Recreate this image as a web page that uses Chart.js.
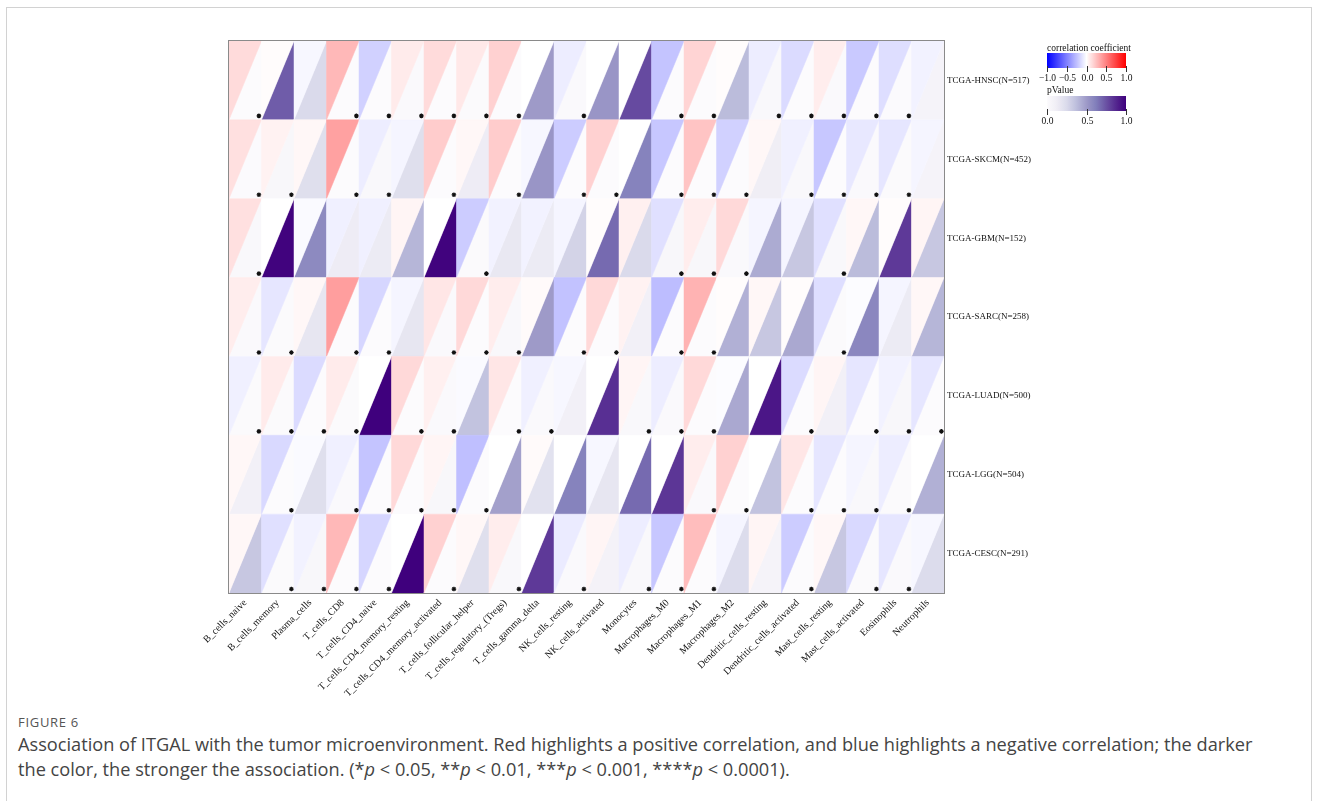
<!DOCTYPE html>
<html>
<head>
<meta charset="utf-8">
<title>ITGAL and immune infiltration</title>
<script src="https://cdn.jsdelivr.net/npm/chart.js@4.4.1/dist/chart.umd.min.js"></script>
<style>
  html, body { margin: 0; padding: 0; background: #fff; }
  body { width: 1319px; height: 801px; position: relative; overflow: hidden; }
  #frame { position: absolute; left: 6px; top: 7px; width: 1306px; height: 830px;
           border: 1px solid #d2d2d2; box-sizing: border-box; }
  #wrap { position: absolute; left: 0; top: 0; width: 1319px; height: 700px; }
  #cap { position: absolute; left: 18px; top: 714px; width: 1290px;
         font-family: "Open Sans", "Noto Sans", sans-serif; color: #444; }
  #cap .fig { font-size: 13px; line-height: 16px; letter-spacing: 0.7px; color: #555; }
  #cap .txt { font-size: 18.2px; line-height: 25px; margin-top: 2px; }
</style>
</head>
<body>
<div id="frame"></div>
<div id="wrap"><canvas id="chart" width="1319" height="700"></canvas></div>
<div id="cap">
  <div class="fig">FIGURE 6</div>
  <div class="txt">Association of ITGAL with the tumor microenvironment. Red highlights a positive correlation, and blue highlights a negative correlation; the darker<br>the color, the stronger the association. (*<i>p</i> &lt; 0.05, **<i>p</i> &lt; 0.01, ***<i>p</i> &lt; 0.001, ****<i>p</i> &lt; 0.0001).</div>
</div>
<script>
// Immune cell types (columns) and cohorts (rows)
const cellTypes = [
  'B_cells_naive', 'B_cells_memory', 'Plasma_cells', 'T_cells_CD8', 'T_cells_CD4_naive',
  'T_cells_CD4_memory_resting', 'T_cells_CD4_memory_activated', 'T_cells_follicular_helper',
  'T_cells_regulatory_(Tregs)', 'T_cells_gamma_delta', 'NK_cells_resting', 'NK_cells_activated',
  'Monocytes', 'Macrophages_M0', 'Macrophages_M1', 'Macrophages_M2', 'Dendritic_cells_resting',
  'Dendritic_cells_activated', 'Mast_cells_resting', 'Mast_cells_activated', 'Eosinophils', 'Neutrophils'
];
const cohorts = [
  'TCGA-HNSC(N=517)', 'TCGA-SKCM(N=452)', 'TCGA-GBM(N=152)', 'TCGA-SARC(N=258)',
  'TCGA-LUAD(N=500)', 'TCGA-LGG(N=504)', 'TCGA-CESC(N=291)'
];

// Correlation coefficients per cohort
const HNSC_r = [0.14, 0.01, -0.03, 0.28, -0.18, 0.08, 0.14, 0.09, 0.18, 0.00, -0.07, 0.00, 0.00, -0.23, 0.17, 0.01, -0.07, -0.14, 0.07, -0.21, -0.13, -0.05];
const SKCM_r = [0.12, 0.05, 0.03, 0.37, -0.07, -0.04, 0.20, 0.03, 0.20, -0.03, -0.20, 0.18, 0.00, -0.22, 0.23, -0.18, 0.03, -0.06, -0.22, -0.09, -0.10, -0.04];
const GBM_r  = [0.12, 0.00, -0.02, -0.06, -0.06, 0.04, 0.00, -0.20, -0.05, -0.05, -0.04, 0.01, 0.06, -0.12, 0.07, 0.15, -0.04, -0.04, -0.12, 0.03, 0.01, 0.04];
const SARC_r = [0.07, -0.10, 0.03, 0.38, -0.16, -0.04, 0.10, 0.15, 0.07, 0.02, -0.24, 0.15, 0.05, -0.26, 0.30, 0.01, 0.03, 0.01, -0.13, -0.01, -0.04, 0.03];
const LUAD_r = [-0.06, 0.08, -0.14, 0.08, 0.00, 0.15, 0.06, -0.02, 0.10, -0.06, -0.03, 0.00, 0.04, -0.07, 0.15, -0.01, 0.00, -0.14, 0.04, -0.10, -0.05, -0.10];
const LGG_r  = [0.03, -0.15, -0.02, -0.06, -0.23, 0.15, 0.04, -0.25, 0.00, 0.02, 0.00, -0.03, 0.00, 0.00, 0.07, 0.18, 0.00, 0.10, -0.10, -0.04, -0.07, 0.00];
const CESC_r = [0.03, -0.12, -0.05, 0.28, -0.16, 0.00, 0.18, 0.03, 0.07, 0.00, -0.08, 0.04, -0.07, -0.22, 0.26, -0.04, 0.04, -0.20, 0.03, -0.15, -0.10, -0.03];

// P values per cohort
const HNSC_p = [0.003, 0.72, 0.25, 0.001, 0.002, 0.02, 0.003, 0.01, 0.001, 0.50, 0.02, 0.52, 0.77, 0.001, 0.002, 0.38, 0.03, 0.004, 0.02, 0.001, 0.006, 0.07];
const SKCM_p = [0.006, 0.04, 0.22, 0.001, 0.03, 0.22, 0.001, 0.13, 0.001, 0.52, 0.001, 0.001, 0.60, 0.001, 0.001, 0.002, 0.12, 0.03, 0.001, 0.02, 0.01, 0.07];
const GBM_p  = [0.03, 0.99, 0.57, 0.13, 0.14, 0.40, 0.99, 0.01, 0.16, 0.14, 0.28, 0.68, 0.25, 0.04, 0.04, 0.02, 0.44, 0.33, 0.03, 0.38, 0.82, 0.33];
const SARC_p = [0.02, 0.01, 0.17, 0.001, 0.002, 0.17, 0.02, 0.003, 0.03, 0.50, 0.001, 0.003, 0.10, 0.001, 0.001, 0.42, 0.33, 0.45, 0.01, 0.58, 0.14, 0.40];
const LUAD_p = [0.01, 0.01, 0.002, 0.01, 1.00, 0.001, 0.02, 0.35, 0.003, 0.02, 0.10, 0.85, 0.03, 0.02, 0.001, 0.45, 0.93, 0.002, 0.10, 0.003, 0.04, 0.003];
const LGG_p  = [0.10, 0.001, 0.22, 0.02, 0.001, 0.001, 0.04, 0.001, 0.48, 0.20, 0.60, 0.17, 0.68, 0.83, 0.02, 0.001, 0.35, 0.003, 0.004, 0.03, 0.01, 0.42];
const CESC_p = [0.33, 0.01, 0.04, 0.001, 0.003, 1.00, 0.002, 0.22, 0.03, 0.82, 0.02, 0.08, 0.03, 0.001, 0.001, 0.24, 0.07, 0.001, 0.33, 0.01, 0.02, 0.24];

// Colour-bar tick values
const corrTicks = [-1, -0.5, 0, 0.5, 1];
const pTicks = [0, 0.5, 1];

const corrRows = [HNSC_r, SKCM_r, GBM_r, SARC_r, LUAD_r, LGG_r, CESC_r];
const pRows = [HNSC_p, SKCM_p, GBM_p, SARC_p, LUAD_p, LGG_p, CESC_p];
const SIG_LEVEL = 0.05;

// ---- colour scales ----
function mix(a, b, t) {
  return [0, 1, 2].map(k => Math.round(a[k] + (b[k] - a[k]) * t));
}
function rgb(c) { return `rgb(${c[0]},${c[1]},${c[2]})`; }
function corrColor(v) {
  const t = Math.min(1, Math.abs(v));
  return rgb(v >= 0 ? mix([255, 255, 255], [255, 0, 0], t) : mix([255, 255, 255], [0, 0, 255], t));
}
const PURPLES = ['#fcfbfd', '#efedf5', '#dadaeb', '#bcbddc', '#9e9ac8', '#807dba', '#6a51a3', '#54278f', '#3f007d']
  .map(h => [parseInt(h.slice(1, 3), 16), parseInt(h.slice(3, 5), 16), parseInt(h.slice(5, 7), 16)]);
function pColor(v) {
  const s = Math.max(0, Math.min(1, v)) * (PURPLES.length - 1);
  const i = Math.min(PURPLES.length - 2, Math.floor(s));
  return rgb(mix(PURPLES[i], PURPLES[i + 1], s - i));
}

// ---- points for each layer ----
const corrPoints = [], pPoints = [], starPoints = [];
cohorts.forEach((_, r) => {
  cellTypes.forEach((_, i) => {
    corrPoints.push({ x: i, y: r, v: corrRows[r][i] });
    pPoints.push({ x: i, y: r, v: pRows[r][i] });
    if (pRows[r][i] < SIG_LEVEL) starPoints.push({ x: i + 0.42, y: r + 0.45 });
  });
});

// Each cell is split along its rising diagonal: the upper-left half carries the
// correlation, the lower-right half the p value.
const triangleCells = {
  id: 'triangleCells',
  beforeDatasetsDraw(chart) {
    const { ctx, scales: { x, y } } = chart;
    const hw = Math.abs(x.getPixelForValue(0.5) - x.getPixelForValue(0));
    const hh = Math.abs(y.getPixelForValue(0.5) - y.getPixelForValue(0));
    ctx.save();
    chart.data.datasets.forEach((ds, di) => {
      if (!ds.triangle) return;
      const meta = chart.getDatasetMeta(di);
      meta.data.forEach((pt, k) => {
        const L = pt.x - hw, R = pt.x + hw, T = pt.y - hh, B = pt.y + hh;
        const col = ds.colorOf(ds.data[k].v);
        ctx.beginPath();
        if (ds.triangle === 'upper') {
          ctx.moveTo(L, T); ctx.lineTo(R, T); ctx.lineTo(L, B);
        } else {
          ctx.moveTo(R, T); ctx.lineTo(R, B); ctx.lineTo(L, B);
        }
        ctx.closePath();
        ctx.fillStyle = col;
        ctx.strokeStyle = col;
        ctx.lineWidth = 0.5;
        ctx.fill();
        ctx.stroke();
      });
    });
    ctx.restore();
  },
  afterDatasetsDraw(chart) {
    const { ctx, chartArea: a } = chart;
    ctx.save();
    ctx.strokeStyle = '#8a8a8a';
    ctx.lineWidth = 1;
    ctx.strokeRect(Math.round(a.left) - 0.5, Math.round(a.top) - 0.5,
                   Math.round(a.right - a.left) + 1, Math.round(a.bottom - a.top) + 1);
    ctx.restore();
  }
};

// Two colour bars at the upper right
const colorBars = {
  id: 'colorBars',
  afterDraw(chart) {
    const { ctx } = chart;
    const x0 = 1047, x1 = 1126;
    const font = '9.5px "Liberation Serif", "Times New Roman", serif';
    function bar(title, titleY, top, bottom, ticks, lo, hi, colorOf, fmt) {
      ctx.save();
      ctx.font = font;
      ctx.fillStyle = '#111';
      ctx.textAlign = 'left';
      ctx.textBaseline = 'middle';
      ctx.fillText(title, x0, titleY);
      const g = ctx.createLinearGradient(x0, 0, x1, 0);
      const n = 40;
      for (let i = 0; i <= n; i++) g.addColorStop(i / n, colorOf(lo + (hi - lo) * i / n));
      ctx.fillStyle = g;
      ctx.fillRect(x0, top, x1 - x0, bottom - top);
      ctx.strokeStyle = '#333';
      ctx.lineWidth = 1;
      ctx.textAlign = 'center';
      ctx.fillStyle = '#111';
      ticks.forEach(t => {
        const px = Math.round(x0 + (x1 - x0) * (t - lo) / (hi - lo)) + 0.5;
        ctx.beginPath();
        ctx.moveTo(px, bottom - 2);
        ctx.lineTo(px, bottom + 4);
        ctx.stroke();
        ctx.fillText(fmt(t), px, bottom + 10);
      });
      ctx.restore();
    }
    const fmt = t => t.toFixed(1).replace('-', '\u2212');
    bar('correlation coefficient', 48, 53, 68, corrTicks, -1, 1, corrColor, fmt);
    bar('pValue', 90, 96, 111, pTicks, 0, 1, pColor, fmt);
  }
};

const serif = '"Liberation Serif", "Times New Roman", serif';

new Chart(document.getElementById('chart'), {
  type: 'scatter',
  data: {
    datasets: [
      { label: 'p value', data: pPoints, triangle: 'lower', colorOf: pColor, pointRadius: 0, pointHoverRadius: 0 },
      { label: 'correlation', data: corrPoints, triangle: 'upper', colorOf: corrColor, pointRadius: 0, pointHoverRadius: 0 },
      { label: 'significant', data: starPoints, pointStyle: 'star', pointRadius: 2.3,
        borderColor: '#111', backgroundColor: '#111', borderWidth: 1.2, pointHoverRadius: 2.3 }
    ]
  },
  options: {
    responsive: false,
    animation: false,
    events: [],
    layout: { padding: { left: 229, top: 41, right: 0, bottom: 0 } },
    plugins: { legend: { display: false }, tooltip: { enabled: false } },
    scales: {
      x: {
        type: 'linear', min: -0.5, max: 21.5,
        afterBuildTicks: s => { s.ticks = cellTypes.map((_, i) => ({ value: i })); },
        afterFit: s => { s.height = 107; },
        grid: { display: false, drawTicks: false },
        border: { display: false },
        ticks: {
          autoSkip: false, maxRotation: 45, minRotation: 45, padding: 4,
          color: '#111', font: { family: serif, size: 10 },
          callback: v => cellTypes[v] ?? ''
        }
      },
      y: {
        type: 'linear', position: 'right', reverse: true, min: -0.5, max: 6.5,
        afterBuildTicks: s => { s.ticks = cohorts.map((_, i) => ({ value: i })); },
        afterFit: s => { s.width = 375; },
        grid: { display: false, drawTicks: false },
        border: { display: false },
        ticks: {
          autoSkip: false, padding: 3,
          color: '#111', font: { family: serif, size: 9 },
          callback: v => cohorts[v] ?? ''
        }
      }
    }
  },
  plugins: [triangleCells, colorBars]
});
</script>
</body>
</html>
